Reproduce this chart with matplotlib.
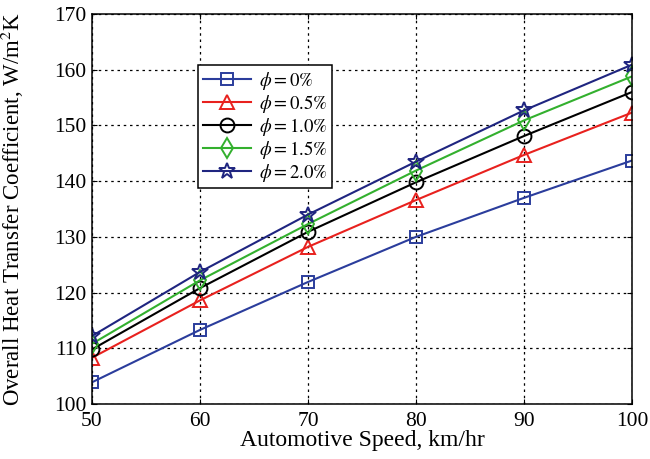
import numpy as np
import matplotlib.pyplot as plt

plt.rcParams['font.family'] = ['Liberation Serif', 'DejaVu Serif']
plt.rcParams['mathtext.fontset'] = 'stix'

# automotive speed, km/hr
speed = [50, 60, 70, 80, 90, 100]

# overall heat transfer coefficient for each nanofluid volume fraction
u_0 = [103.9, 113.3, 121.9, 130.0, 137.0, 143.7]
u_05 = [108.3, 118.6, 128.2, 136.6, 144.7, 152.3]
u_10 = [109.8, 120.8, 130.9, 139.8, 148.1, 156.0]
u_15 = [110.8, 122.2, 132.3, 141.9, 150.9, 158.8]
u_20 = [112.2, 123.7, 134.0, 143.5, 152.7, 160.9]

labels = [r'$\phi = 0\%$', r'$\phi = 0.5\%$', r'$\phi = 1.0\%$',
          r'$\phi = 1.5\%$', r'$\phi = 2.0\%$']

fig = plt.figure(figsize=(6.5, 4.59), dpi=100)
ax = fig.add_axes([0.1415, 0.1198, 0.8308, 0.8497])

kw = dict(mfc='none', mew=1.4, lw=1.5)
ax.plot(speed, u_0, '-s', color='#2b3d9c', ms=9, label=labels[0], **kw)
ax.plot(speed, u_05, '-^', color='#e8211e', ms=10, label=labels[1], **kw)
ax.plot(speed, u_10, '-o', color='black', ms=10, label=labels[2], **kw)
ax.plot(speed, u_15, '-d', color='#33b02e', ms=10, label=labels[3], **kw)
ax.plot(speed, u_20, '-*', color='#1f2580', ms=12, label=labels[4], **kw)

ax.set_xlim(50, 100)
ax.set_ylim(100, 170)
ax.set_xticks(np.arange(50, 101, 10))
ax.set_yticks(np.arange(100, 171, 10))
ax.tick_params(direction='in', labelsize=15.5, top=True, right=True)
ax.tick_params(axis='x', pad=6)
ax.tick_params(axis='y', pad=4)
ax.grid(True, color='black', linestyle=(0, (2, 3)), lw=0.9)
for s in ax.spines.values():
    s.set_linewidth(1.1)

ax.set_xlabel('Automotive Speed, km/hr', fontsize=17, labelpad=-1)
ax.set_ylabel(r'Overall Heat Transfer Coefficient, W/m$^2$K', fontsize=16.5, labelpad=20)

leg = ax.legend(loc='upper left', bbox_to_anchor=(0.196, 0.869), fontsize=13.5,
                fancybox=False, edgecolor='black', framealpha=1,
                handlelength=2.6, labelspacing=0.05, borderpad=0.25,
                handletextpad=0.4, borderaxespad=0)
leg.get_frame().set_linewidth(1.1)

fig.savefig('out.png', dpi=100)
